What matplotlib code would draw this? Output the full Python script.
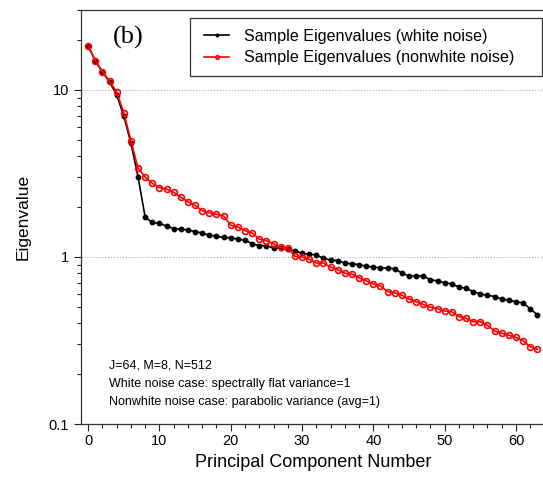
import matplotlib
matplotlib.use('Agg')
import matplotlib.pyplot as plt
import matplotlib.ticker as mtick
from matplotlib.patches import Rectangle
import numpy as np

plt.rcParams['font.family'] = ['Liberation Sans', 'DejaVu Sans']

# eigenvalues, index 0..63
white = [18.3, 15.0, 12.8, 11.2, 9.35, 7.0, 4.8, 3.02, 1.73, 1.61,
         1.59, 1.53, 1.48, 1.47, 1.45, 1.42, 1.39, 1.35, 1.33, 1.31,
         1.30, 1.28, 1.26, 1.20, 1.17, 1.17, 1.13, 1.13, 1.11, 1.09,
         1.05, 1.04, 1.03, 0.98, 0.96, 0.95, 0.92, 0.91, 0.90, 0.88,
         0.87, 0.86, 0.86, 0.85, 0.80, 0.77, 0.77, 0.77, 0.73, 0.72,
         0.70, 0.69, 0.66, 0.65, 0.62, 0.60, 0.59, 0.58, 0.56, 0.55,
         0.54, 0.53, 0.49, 0.45]
nonwhite = [18.4, 15.0, 12.9, 11.3, 9.73, 7.31, 4.97, 3.40, 3.01, 2.76,
            2.60, 2.55, 2.44, 2.28, 2.14, 2.04, 1.89, 1.84, 1.80, 1.76,
            1.55, 1.51, 1.44, 1.39, 1.28, 1.25, 1.20, 1.14, 1.13, 1.01,
            1.00, 0.97, 0.92, 0.92, 0.87, 0.84, 0.80, 0.79, 0.75, 0.72,
            0.69, 0.67, 0.62, 0.61, 0.59, 0.56, 0.54, 0.52, 0.50, 0.49,
            0.475, 0.47, 0.44, 0.43, 0.41, 0.41, 0.39, 0.36, 0.35, 0.34,
            0.33, 0.315, 0.29, 0.28]
pc = np.arange(len(white))

notes = ['J=64, M=8, N=512',
         'White noise case: spectrally flat variance=1',
         'Nonwhite noise case: parabolic variance (avg=1)']

fig = plt.figure(figsize=(5.43, 4.78), dpi=100)
ax = fig.add_axes([81/543., 54/478., 463.5/543., 413.7/478.])

ax.plot(pc, white, '-o', color='black', lw=1.2, ms=3.2,
        label='Sample Eigenvalues (white noise)')
ax.plot(pc, nonwhite, '-o', color='red', lw=1.2, ms=4.2, mfc='none', mew=1.2,
        label='Sample Eigenvalues (nonwhite noise)')

ax.set_yscale('log')
ax.set_xlim(-1, 64)
ax.set_ylim(0.1, 30)
ax.set_yticks([0.1, 1, 10])
ax.yaxis.set_major_formatter(mtick.FuncFormatter(lambda v, p: '%g' % v))
ax.yaxis.set_minor_locator(mtick.LogLocator(subs=np.arange(2, 10)))
ax.yaxis.set_minor_formatter(mtick.NullFormatter())
ax.set_xticks(np.arange(0, 61, 10))
ax.xaxis.set_minor_locator(mtick.MultipleLocator(2))
ax.tick_params(which='major', direction='out', length=5, width=0.8,
               labelsize=10.5, colors='#222222', labelcolor='black')
ax.tick_params(which='minor', direction='out', length=3, width=0.8,
               colors='#222222')
ax.tick_params(axis='x', pad=2.5)
ax.grid(axis='y', which='major', ls=':', color='#aaaaaa', lw=0.8)

ax.spines['right'].set_visible(False)
for s in ['left', 'bottom', 'top']:
    ax.spines[s].set_color('#333333')
    ax.spines[s].set_linewidth(0.9)

ax.set_xlabel('Principal Component Number', fontsize=13, labelpad=4)
ax.set_ylabel('Eigenvalue', fontsize=12.5, labelpad=13)

ax.text(0.069, 0.935, '(b)', transform=ax.transAxes, fontsize=19,
        family='Liberation Serif', va='center', ha='left')

for k, line in enumerate(notes):
    ax.text(0.060, (424 - 366 - 18*k)/413.7, line, transform=ax.transAxes,
            fontsize=9, va='center', ha='left')

fig.patches.append(Rectangle((190/543., (478-76)/478.), 352/543., 58/478.,
                             transform=fig.transFigure, fill=False,
                             edgecolor='#333333', lw=0.9))
fig.legend(loc='upper left', bbox_to_anchor=(196/543., 1 - 21/478.),
           frameon=False, fontsize=11.6, handlelength=1.55, handletextpad=0.95,
           labelspacing=0.38, borderpad=0, markerscale=0.6)

plt.savefig('out.png', dpi=100)
